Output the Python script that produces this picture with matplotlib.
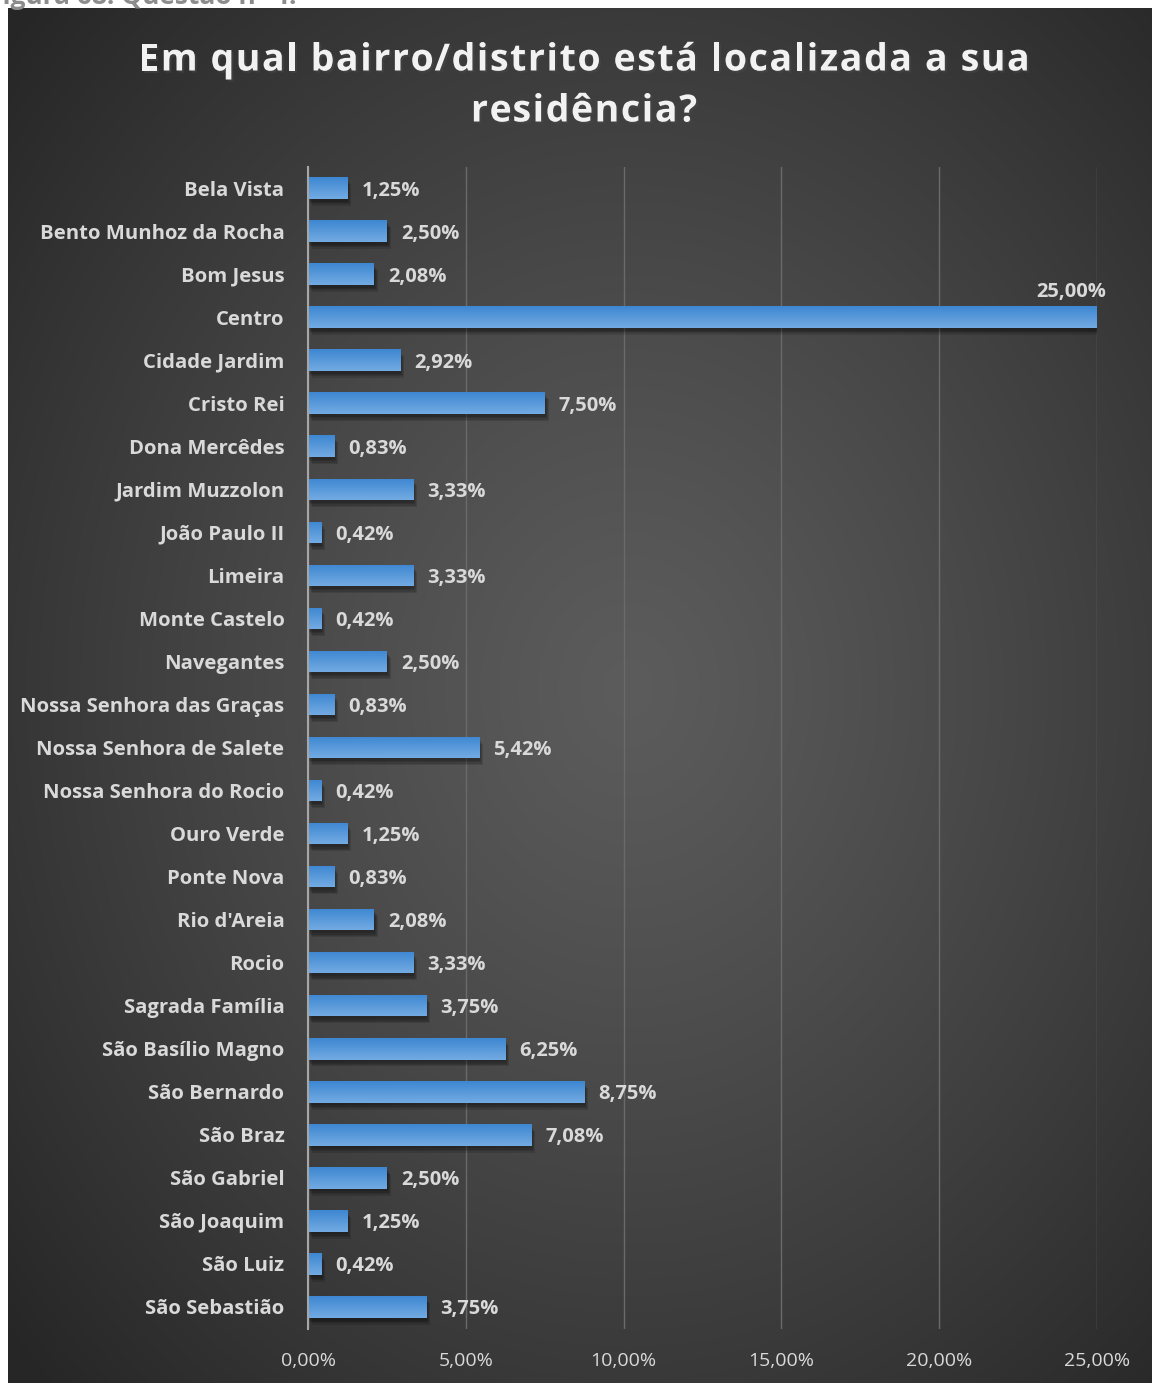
import matplotlib
matplotlib.use('Agg')
import matplotlib.pyplot as plt
import matplotlib.patheffects as pe
import numpy as np

# data
bairros = ["Bela Vista", "Bento Munhoz da Rocha", "Bom Jesus", "Centro",
           "Cidade Jardim", "Cristo Rei", "Dona Mercêdes", "Jardim Muzzolon",
           "João Paulo II", "Limeira", "Monte Castelo", "Navegantes",
           "Nossa Senhora das Graças", "Nossa Senhora de Salete",
           "Nossa Senhora do Rocio", "Ouro Verde", "Ponte Nova", "Rio d'Areia",
           "Rocio", "Sagrada Família", "São Basílio Magno", "São Bernardo",
           "São Braz", "São Gabriel", "São Joaquim", "São Luiz", "São Sebastião"]
pct = [1.25, 2.50, 2.08, 25.00, 2.92, 7.50, 0.83, 3.33, 0.42, 3.33, 0.42, 2.50,
       0.83, 5.42, 0.42, 1.25, 0.83, 2.08, 3.33, 3.75, 6.25, 8.75, 7.08, 2.50,
       1.25, 0.42, 3.75]
xticks = [0, 5, 10, 15, 20, 25]

W, H = 1152, 1383
TXT = '#d9d9d9'
FONT = ['Open Sans', 'DejaVu Sans']

fig = plt.figure(figsize=(W / 100, H / 100), dpi=100)
fig.patch.set_facecolor('white')
renderer = fig.canvas.get_renderer()

# caption of the page, cut off at the top edge like the source scan
fig.text(297 / W, 1 - 4 / H, "Figura 68: Questão n° 4.", ha='right', va='baseline',
         fontsize=19, fontweight='bold', color='#8c8c8c', family=FONT)

# dark radial background
bg = fig.add_axes([8 / W, 0, (W - 8) / W, (H - 8) / H], zorder=0)
bg.axis('off')
yy, xx = np.mgrid[0:1375, 0:1144]
d = np.hypot((xx - 620) / 1144, (yy - 680) / 1375) / 0.72
d = np.clip(d, 0, 1)
val = 0.36 - (0.36 - 0.15) * d ** 1.2
bg.imshow(np.dstack([val, val, val]), aspect='auto', extent=[0, 1, 0, 1])
bg.set_xlim(0, 1)
bg.set_ylim(0, 1)


def spaced(line, cx, cy, fs, spacing):
    """Centered text line with extra letter spacing (px)."""
    kw = dict(fontsize=fs, fontweight='bold', family=FONT)
    widths = []
    for i in range(len(line) + 1):
        t = fig.text(0, 0, line[:i] + '|', **kw)
        widths.append(t.get_window_extent(renderer).width)
        t.remove()
    bar_w = widths[0]
    widths = [w - bar_w for w in widths]
    total = widths[-1] + spacing * (len(line) - 1)
    x0 = cx - total / 2
    for i, ch in enumerate(line):
        fig.text((x0 + widths[i] + spacing * i) / W, 1 - cy / H, ch, ha='left',
                 va='center_baseline', color='#f2f2f2', **kw,
                 path_effects=[pe.SimplePatchShadow(offset=(1.5, -1.5), alpha=0.5),
                               pe.Normal()])


spaced("Em qual bairro/distrito está localizada a sua", 584, 56, 27, 1.6)
spaced("residência?", 584, 107, 27, 1.6)

ax = fig.add_axes([308 / W, 1 - 1328.5 / H, (1097 - 308) / W, (1328.5 - 166.5) / H],
                  zorder=1)
ax.patch.set_alpha(0)
y = np.arange(len(bairros))
bh = 0.5
bars = ax.barh(y, pct, height=bh, color='#5b9bd5', zorder=3)

grad = np.linspace(0, 1, 50).reshape(-1, 1)
top_c = np.array([0.45, 0.67, 0.89])
bot_c = np.array([0.24, 0.53, 0.82])
gimg = top_c[None, None, :] * (1 - grad[:, :, None]) + bot_c[None, None, :] * grad[:, :, None]
shadow = [pe.SimplePatchShadow(offset=(o * 0.7, -o - 1), shadow_rgbFace='black', alpha=0.13)
          for o in (1, 2, 3, 4)] + [pe.Normal()]
for b, yi, v in zip(bars, y, pct):
    b.set_path_effects(shadow)
    im = ax.imshow(gimg, extent=[0, v, yi - bh / 2, yi + bh / 2], aspect='auto',
                   zorder=4, interpolation='bilinear')
    im.set_clip_path(b)

for yi, v in zip(y, pct):
    lab = f"{v:.2f}%".replace('.', ',')
    if v == max(pct):
        ax.text(v + 0.3, yi - 0.36, lab, ha='right', va='bottom', fontsize=14.5,
                fontweight='bold', color=TXT, family=FONT, zorder=5)
    else:
        ax.text(v + 0.45, yi, lab, ha='left', va='center_baseline', fontsize=14.5,
                fontweight='bold', color=TXT, family=FONT, zorder=5)

ax.set_ylim(len(bairros) - 0.5, -0.5)
ax.set_xlim(0, 25)
ax.set_yticks(y)
ax.set_yticklabels(bairros, fontsize=14.6, fontweight='bold', color=TXT, family=FONT,
                   va='center_baseline')
ax.set_xticks(xticks)
ax.set_xticklabels([f"{t:.2f}%".replace('.', ',') for t in xticks], fontsize=14,
                   color=TXT, family=FONT)
ax.tick_params(axis='y', length=0, pad=17)
ax.tick_params(axis='x', length=0, pad=17)
ax.grid(axis='x', color='#6a6a6a', lw=1, zorder=1)
ax.set_axisbelow(True)
for s in ['top', 'right', 'bottom']:
    ax.spines[s].set_visible(False)
ax.spines['left'].set_color('#a6a6a6')
ax.spines['left'].set_linewidth(1.5)
ax.spines['left'].set_zorder(6)

fig.savefig('out.png', dpi=100, facecolor='white')
